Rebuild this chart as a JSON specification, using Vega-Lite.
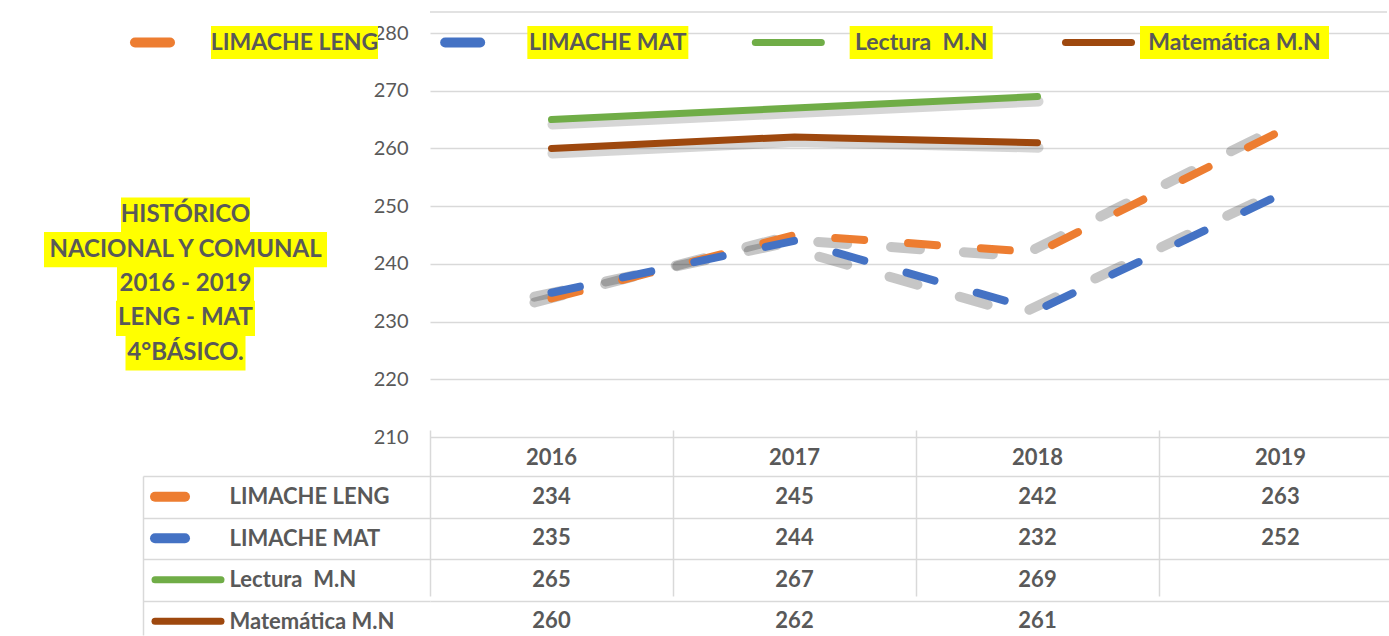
{
  "$schema": "https://vega.github.io/schema/vega-lite/v6.json",
  "padding": 0,
  "spacing": 0,
  "bounds": "flush",
  "columns": 2,
  "resolve": {"scale": {"shape": "independent"}},
  "config": {
    "view": {"stroke": null},
    "font": "Lato",
    "axis": {"labelFont": "Lato", "labelColor": "#595959"}
  },
  "datasets": {
    "scores": [
      {"series": "LIMACHE LENG", "year": 2016, "value": 234},
      {"series": "LIMACHE LENG", "year": 2017, "value": 245},
      {"series": "LIMACHE LENG", "year": 2018, "value": 242},
      {"series": "LIMACHE LENG", "year": 2019, "value": 263},
      {"series": "LIMACHE MAT", "year": 2016, "value": 235},
      {"series": "LIMACHE MAT", "year": 2017, "value": 244},
      {"series": "LIMACHE MAT", "year": 2018, "value": 232},
      {"series": "LIMACHE MAT", "year": 2019, "value": 252},
      {"series": "Lectura  M.N", "year": 2016, "value": 265},
      {"series": "Lectura  M.N", "year": 2017, "value": 267},
      {"series": "Lectura  M.N", "year": 2018, "value": 269},
      {"series": "Matemática M.N", "year": 2016, "value": 260},
      {"series": "Matemática M.N", "year": 2017, "value": 262},
      {"series": "Matemática M.N", "year": 2018, "value": 261}
    ],
    "titleLines": [
      {"t": "HISTÓRICO"},
      {"t": "NACIONAL Y COMUNAL"},
      {"t": "2016 - 2019"},
      {"t": "LENG - MAT"},
      {"t": "4°BÁSICO."}
    ]
  },
  "concat": [
    {
      "width": 430,
      "height": 437,
      "data": {"name": "titleLines"},
      "encoding": {
        "y": {"field": "t", "type": "nominal", "scale": {"type": "band", "domain": ["HISTÓRICO", "NACIONAL Y COMUNAL", "2016 - 2019", "LENG - MAT", "4°BÁSICO."], "range": [198, 370], "paddingInner": 0, "paddingOuter": 0}, "axis": null},
        "x": {"field": "t", "type": "nominal", "scale": {"type": "point", "range": [185.5, 185.5], "padding": 0}, "axis": null}
      },
      "layer": [
        {
          "mark": {"type": "point", "filled": true, "color": "#FFFF00", "opacity": 1, "size": 4, "strokeWidth": 0},
          "encoding": {
            "shape": {"field": "t", "type": "nominal", "scale": {"domain": ["HISTÓRICO", "NACIONAL Y COMUNAL", "2016 - 2019", "LENG - MAT", "4°BÁSICO."], "range": ["M-64.5,-17.6H64.5V17.6H-64.5Z", "M-141.5,-17.6H141.5V17.6H-141.5Z", "M-68.5,-17.6H68.5V17.6H-68.5Z", "M-69.5,-17.6H69.5V17.6H-69.5Z", "M-60,-17.6H60V17.6H-60Z"]}, "legend": null}
          }
        },
        {
          "mark": {"type": "text", "font": "Lato", "fontWeight": "bold", "fontSize": 24, "color": "#595959", "align": "center", "baseline": "middle"},
          "encoding": {"text": {"field": "t"}}
        }
      ]
    },
    {
      "width": 957,
      "height": 437,
      "layer": [
        {
          "data": {"name": "scores"},
          "encoding": {
            "x": {"field": "year", "type": "ordinal", "bandPosition": 0.5, "scale": {"type": "band", "domain": [2016, 2017, 2018, 2019], "range": [0, 972], "paddingInner": 0, "paddingOuter": 0},
              "axis": {"title": null, "domain": false, "ticks": false, "grid": false, "labelPadding": 20, "labelBaseline": "middle", "labelFont": "Lato", "labelFontWeight": "bold", "labelFontSize": 22, "labelColor": "#595959", "labelAngle": 0}},
            "y": {"field": "value", "type": "quantitative", "scale": {"domain": [210, 285.718], "nice": false, "zero": false},
              "axis": {"values": [210, 220, 230, 240, 250, 260, 270, 280], "title": null, "domain": false, "ticks": false, "labelPadding": 22, "labelFont": "Lato", "labelFontSize": 20, "labelColor": "#595959", "grid": true, "gridColor": "#d9d9d9", "gridWidth": 1.5}},
            "color": {"field": "series", "type": "nominal", "scale": {"domain": ["LIMACHE LENG", "LIMACHE MAT", "Lectura  M.N", "Matemática M.N"], "range": ["#ED7D31", "#4472C4", "#70AD47", "#9E480E"]}, "legend": null}
          },
          "layer": [
            {"transform": [{"filter": {"field": "series", "oneOf": ["Lectura  M.N", "Matemática M.N"]}}], "mark": {"type": "line", "strokeWidth": 10, "strokeCap": "round", "opacity": 0.2, "xOffset": 1, "yOffset": 5}, "encoding": {"color": {"value": "#333333"}, "detail": {"field": "series"}}},
            {"transform": [{"filter": {"field": "series", "oneOf": ["LIMACHE LENG", "LIMACHE MAT"]}}], "mark": {"type": "line", "strokeWidth": 10, "strokeDash": [29, 44], "strokeCap": "round", "opacity": 0.28, "xOffset": -17, "yOffset": 4}, "encoding": {"color": {"value": "#333333"}, "detail": {"field": "series"}}},
            {"transform": [{"filter": "datum.series == 'LIMACHE LENG'"}], "mark": {"type": "line", "strokeWidth": 8, "strokeDash": [29, 44], "strokeCap": "round"}},
            {"transform": [{"filter": "datum.series == 'LIMACHE MAT'"}], "mark": {"type": "line", "strokeWidth": 8, "strokeDash": [29, 44], "strokeCap": "round"}},
            {"transform": [{"filter": {"field": "series", "oneOf": ["Lectura  M.N", "Matemática M.N"]}}], "mark": {"type": "line", "strokeWidth": 7, "strokeCap": "round"}}
          ]
        },
        {
          "data": {"name": "scores"},
          "transform": [{"filter": "datum.year == 2016 && datum.series == 'LIMACHE LENG'"}],
          "mark": {"type": "rule", "color": "#d9d9d9", "strokeWidth": 1.5},
          "encoding": {"y": {"datum": 283.64, "type": "quantitative"}}
        },
        {
          "data": {"name": "scores"},
          "transform": [{"aggregate": [{"op": "count", "as": "n"}], "groupby": ["series"]}, {"calculate": "replace(datum.series, '  ', ' \u00a0')", "as": "label"}],
          "encoding": {
            "x": {"field": "series", "type": "nominal", "scale": {"type": "point", "domain": ["LIMACHE LENG", "LIMACHE MAT", "Lectura  M.N", "Matemática M.N"], "range": [-135.5, 804.5], "padding": 0}, "axis": null},
            "y": {"datum": 278.35, "type": "quantitative"}
          },
          "layer": [
            {
              "mark": {"type": "point", "filled": true, "color": "#FFFF00", "opacity": 1, "size": 4, "strokeWidth": 0},
              "encoding": {
                "shape": {"field": "series", "type": "nominal", "scale": {"domain": ["LIMACHE LENG", "LIMACHE MAT", "Lectura  M.N", "Matemática M.N"], "range": ["M-83.5,-16.5H83.5V16.5H-83.5Z", "M-80.5,-16.5H80.5V16.5H-80.5Z", "M-71.5,-16.5H71.5V16.5H-71.5Z", "M-94.5,-16.5H94.5V16.5H-94.5Z"]}, "legend": null}
              }
            },
            {
              "mark": {"type": "text", "font": "Lato", "fontWeight": "bold", "fontSize": 23, "color": "#595959", "align": "center", "baseline": "middle"},
              "encoding": {"text": {"field": "label"}}
            }
          ]
        },
        {
          "data": {"name": "scores"},
          "transform": [{"aggregate": [{"op": "count", "as": "n"}], "groupby": ["series"]}],
          "encoding": {
            "x": {"field": "series", "type": "nominal", "scale": {"type": "point", "domain": ["LIMACHE LENG", "LIMACHE MAT", "Lectura  M.N", "Matemática M.N"], "range": [-295, 635.5], "padding": 0}, "axis": null},
            "y": {"datum": 278.35, "type": "quantitative"},
            "color": {"field": "series", "type": "nominal", "scale": {"domain": ["LIMACHE LENG", "LIMACHE MAT", "Lectura  M.N", "Matemática M.N"], "range": ["#ED7D31", "#4472C4", "#70AD47", "#9E480E"]}, "legend": null}
          },
          "layer": [
            {"transform": [{"filter": {"field": "series", "oneOf": ["LIMACHE LENG", "LIMACHE MAT"]}}], "mark": {"type": "point", "shape": "M0,0H35", "size": 4, "filled": false, "strokeWidth": 10, "strokeCap": "round", "opacity": 1}},
            {"transform": [{"filter": {"field": "series", "oneOf": ["Lectura  M.N", "Matemática M.N"]}}], "mark": {"type": "point", "shape": "M0,0H66", "size": 4, "filled": false, "strokeWidth": 7, "strokeCap": "round", "opacity": 1}}
          ]
        }
      ],
      "resolve": {"scale": {"x": "independent"}}
    },
    {
      "width": 143,
      "height": 198,
      "data": {"name": "scores"},
      "transform": [{"aggregate": [{"op": "count", "as": "n"}], "groupby": ["series"]}],
      "mark": {"type": "point", "opacity": 0},
      "encoding": {
        "y": {"field": "series", "type": "nominal", "scale": {"type": "band", "domain": ["LIMACHE LENG", "LIMACHE MAT", "Lectura  M.N", "Matemática M.N"], "range": [39, 198], "paddingInner": 0, "paddingOuter": 0},
          "axis": {"orient": "right", "labels": false, "ticks": false, "grid": false, "domain": true, "domainColor": "#d9d9d9", "domainWidth": 1.5, "title": null}}
      }
    },
    {
      "width": 957,
      "height": 198,
      "layer": [
        {
          "data": {"name": "scores"},
          "mark": {"type": "text", "font": "Lato", "fontWeight": "bold", "fontSize": 22, "color": "#595959", "align": "center", "baseline": "middle"},
          "encoding": {
            "x": {"field": "year", "type": "ordinal", "scale": {"type": "band", "domain": [2016, 2017, 2018, 2019], "range": [0, 972], "paddingInner": 0, "paddingOuter": 0},
              "axis": {"title": null, "domain": false, "ticks": false, "labels": false, "grid": true, "gridColor": "#d9d9d9", "gridWidth": 1.5, "tickBand": "extent", "tickExtra": false}},
            "y": {"field": "series", "type": "nominal", "scale": {"type": "band", "domain": ["LIMACHE LENG", "LIMACHE MAT", "Lectura  M.N", "Matemática M.N"], "range": [39, 205], "paddingInner": 0, "paddingOuter": 0},
              "axis": {"orient": "left", "title": null, "domain": false, "ticks": true, "tickSize": 287, "tickColor": "#d9d9d9", "tickWidth": 1.5, "tickBand": "extent", "tickExtra": false, "grid": true, "gridColor": "#d9d9d9", "gridWidth": 1.5, "labelAlign": "left", "labelBaseline": "middle", "labelPadding": -86, "labelFont": "Lato", "labelFontWeight": "bold", "labelFontSize": 22, "labelColor": "#595959", "labelLimit": 400, "labelExpr": "replace(datum.label, '  ', ' \u00a0')"}},
            "text": {"field": "value", "type": "quantitative"}
          }
        },
        {
          "data": {"name": "scores"},
          "transform": [{"aggregate": [{"op": "count", "as": "n"}], "groupby": ["series"]}],
          "encoding": {
            "x": {"field": "series", "type": "nominal", "scale": {"type": "point", "domain": ["LIMACHE LENG", "LIMACHE MAT", "Lectura  M.N", "Matemática M.N"], "range": [-275, -275], "padding": 0}, "axis": null},
            "y": {"field": "series", "type": "nominal"},
            "color": {"field": "series", "type": "nominal", "scale": {"domain": ["LIMACHE LENG", "LIMACHE MAT", "Lectura  M.N", "Matemática M.N"], "range": ["#ED7D31", "#4472C4", "#70AD47", "#9E480E"]}, "legend": null}
          },
          "layer": [
            {"transform": [{"filter": {"field": "series", "oneOf": ["LIMACHE LENG", "LIMACHE MAT"]}}], "mark": {"type": "point", "shape": "M0,0H30", "size": 4, "filled": false, "strokeWidth": 10, "strokeCap": "round", "opacity": 1}},
            {"transform": [{"filter": {"field": "series", "oneOf": ["Lectura  M.N", "Matemática M.N"]}}], "mark": {"type": "point", "shape": "M0,0H66", "size": 4, "filled": false, "strokeWidth": 7, "strokeCap": "round", "opacity": 1}}
          ]
        }
      ],
      "resolve": {"scale": {"x": "independent"}}
    }
  ]
}
